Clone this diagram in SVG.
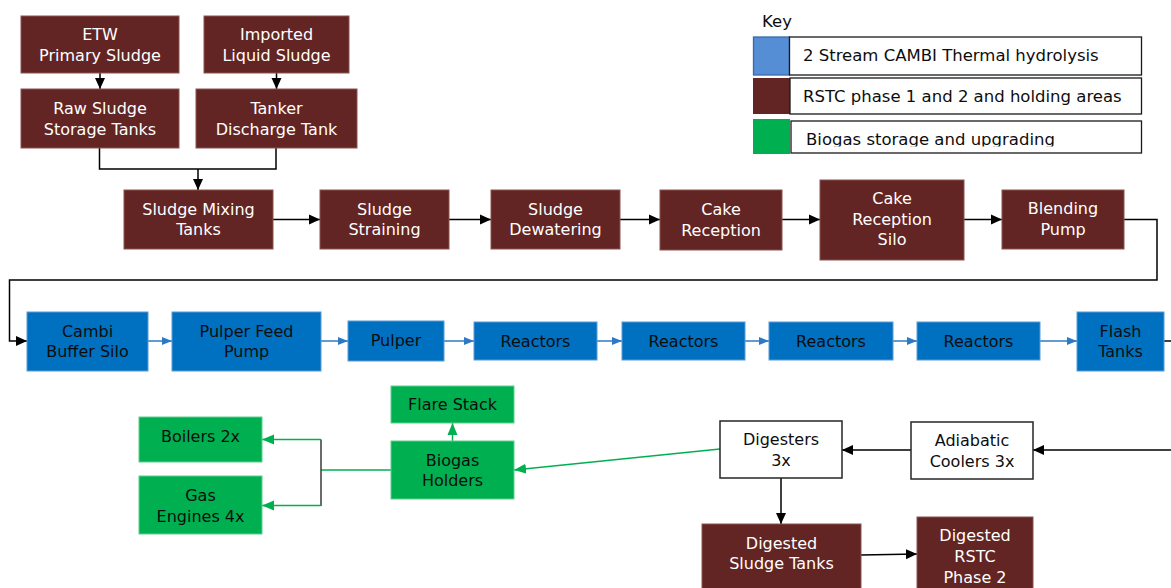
<svg xmlns="http://www.w3.org/2000/svg" width="1171" height="588" viewBox="0 0 1171 588">
  <style>
    text { font-family: "DejaVu Sans", Verdana, sans-serif; font-size: 16px; text-anchor: middle; }
    .red rect { fill: #632523; stroke: #8a5452; stroke-width: 1; }
    .red text { fill: #ffffff; }
    .blue rect { fill: #0070c0; stroke: #5a9bd5; stroke-width: 1; }
    .blue text { fill: #0d0d0d; }
    .green rect { fill: #00b050; stroke: #5fd08d; stroke-width: 1; }
    .green text { fill: #0d0d0d; }
    .white rect { fill: #ffffff; stroke: #262626; stroke-width: 1.5; }
    .white text { fill: #0d0d0d; }
    .key rect.box { fill: #ffffff; stroke: #1a1a1a; stroke-width: 1.3; }
    .key text { fill: #0d0d0d; text-anchor: start; font-size: 16.5px; }
    .blk { fill: none; stroke: #000000; stroke-width: 1.5; }
    .blu { fill: none; stroke: #2e78c4; stroke-width: 1.5; }
    .grn { fill: none; stroke: #00b050; stroke-width: 1.5; }
  </style>
  <defs>
    <marker id="ah-black" markerUnits="userSpaceOnUse" markerWidth="11" markerHeight="11" refX="11" refY="5.5" orient="auto">
      <path d="M0,0.5 L11,5.5 L0,10.5 z" fill="#000000"/>
    </marker>
    <marker id="ah-blue" markerUnits="userSpaceOnUse" markerWidth="10" markerHeight="10" refX="10" refY="5" orient="auto">
      <path d="M0,1 L10,5 L0,9 z" fill="#2e78c4"/>
    </marker>
    <marker id="ah-green" markerUnits="userSpaceOnUse" markerWidth="12" markerHeight="12" refX="12" refY="6" orient="auto">
      <path d="M0,1 L12,6 L0,11 z" fill="#00b050"/>
    </marker>
    <clipPath id="clip-key3">
      <rect x="790" y="120" width="352" height="26.5"/>
    </clipPath>
  </defs>

  <!-- legend -->
  <g id="key" class="key">
    <text x="762" y="27">Key</text>
    <rect x="753.5" y="37" width="36" height="38" fill="#558ed5" stroke="#3a6aa6" stroke-width="1.3"/>
    <rect class="box" x="789.5" y="37" width="352" height="38"/>
    <text x="803" y="61">2 Stream CAMBI Thermal hydrolysis</text>
    <rect x="753" y="78" width="37" height="36" fill="#632523"/>
    <rect class="box" x="790" y="78" width="351.5" height="36"/>
    <text x="803" y="102">RSTC phase 1 and 2 and holding areas</text>
    <rect x="753" y="119" width="37" height="35" fill="#00b050"/>
    <rect class="box" x="791" y="121" width="350.5" height="32"/>
    <text x="806" y="145" clip-path="url(#clip-key3)">Biogas storage and upgrading</text>
  </g>

  <!-- connectors -->
  <g id="connectors">
    <path class="blk" d="M100,73 V89" marker-end="url(#ah-black)"/>
    <path class="blk" d="M276.5,73 V89" marker-end="url(#ah-black)"/>
    <path class="blk" d="M99.5,148 V169 H276 V148"/>
    <path class="blk" d="M198,169 V190" marker-end="url(#ah-black)"/>
    <path class="blk" d="M273,219.5 H320" marker-end="url(#ah-black)"/>
    <path class="blk" d="M449,219.5 H491" marker-end="url(#ah-black)"/>
    <path class="blk" d="M620,219.5 H660" marker-end="url(#ah-black)"/>
    <path class="blk" d="M782,219.5 H820" marker-end="url(#ah-black)"/>
    <path class="blk" d="M964,219.5 H1002" marker-end="url(#ah-black)"/>
    <path class="blk" d="M1124,219.5 H1157 V280 H9.5 V341 H27" marker-end="url(#ah-black)"/>
    <path class="blu" d="M148,341 H172" marker-end="url(#ah-blue)"/>
    <path class="blu" d="M321,341 H348" marker-end="url(#ah-blue)"/>
    <path class="blu" d="M444,341 H474" marker-end="url(#ah-blue)"/>
    <path class="blu" d="M597,341 H622" marker-end="url(#ah-blue)"/>
    <path class="blu" d="M745,341 H769" marker-end="url(#ah-blue)"/>
    <path class="blu" d="M893,341 H917" marker-end="url(#ah-blue)"/>
    <path class="blu" d="M1040,341 H1077" marker-end="url(#ah-blue)"/>
    <path class="blk" d="M1164,341 H1171"/>
    <path class="blk" d="M1171,450 H1033" marker-end="url(#ah-black)"/>
    <path class="blk" d="M911,450 H842" marker-end="url(#ah-black)"/>
    <path class="blk" d="M781,478 V524" marker-end="url(#ah-black)"/>
    <path class="blk" d="M861,555 L917,554" marker-end="url(#ah-black)"/>
    <path class="grn" d="M720,449 L514,470" marker-end="url(#ah-green)"/>
    <path class="grn" d="M452.5,441 V423" marker-end="url(#ah-green)"/>
    <path class="grn" d="M391,470 H321"/>
    <path d="M321,439.5 V506" fill="none" stroke="#3a3a3a" stroke-width="1.5"/>
    <path class="grn" d="M321,439.5 H262" marker-end="url(#ah-green)"/>
    <path class="grn" d="M321,505.5 H262" marker-end="url(#ah-green)"/>
  </g>

  <!-- sludge intake -->
  <g id="etw" class="red"><rect x="21" y="16" width="158" height="57"/><text x="100" y="40">ETW</text><text x="100" y="61">Primary Sludge</text></g>
  <g id="imported" class="red"><rect x="204" y="16" width="145" height="57"/><text x="276.5" y="40">Imported</text><text x="276.5" y="61">Liquid Sludge</text></g>
  <g id="raw-storage" class="red"><rect x="21" y="89" width="158" height="59"/><text x="100" y="114">Raw Sludge</text><text x="100" y="135">Storage Tanks</text></g>
  <g id="tanker" class="red"><rect x="196" y="89" width="161" height="59"/><text x="276.5" y="114">Tanker</text><text x="276.5" y="135">Discharge Tank</text></g>

  <!-- sludge preparation -->
  <g id="mixing" class="red"><rect x="124" y="190" width="149" height="59"/><text x="198.5" y="215">Sludge Mixing</text><text x="198.5" y="235">Tanks</text></g>
  <g id="straining" class="red"><rect x="320" y="190" width="129" height="59"/><text x="384.5" y="215">Sludge</text><text x="384.5" y="235">Straining</text></g>
  <g id="dewatering" class="red"><rect x="491" y="190" width="129" height="59"/><text x="555.5" y="215">Sludge</text><text x="555.5" y="235">Dewatering</text></g>
  <g id="cake-reception" class="red"><rect x="660" y="190" width="122" height="60"/><text x="721" y="215">Cake</text><text x="721" y="236">Reception</text></g>
  <g id="cake-silo" class="red"><rect x="820" y="180" width="144" height="80"/><text x="892" y="204">Cake</text><text x="892" y="225">Reception</text><text x="892" y="245">Silo</text></g>
  <g id="blending" class="red"><rect x="1002" y="190" width="122" height="59"/><text x="1063" y="214">Blending</text><text x="1063" y="235">Pump</text></g>

  <!-- thermal hydrolysis -->
  <g id="cambi-silo" class="blue"><rect x="27" y="312" width="121" height="59"/><text x="87.5" y="337">Cambi</text><text x="87.5" y="357">Buffer Silo</text></g>
  <g id="pulper-feed" class="blue"><rect x="172" y="312" width="149" height="59"/><text x="246.5" y="337">Pulper Feed</text><text x="246.5" y="357">Pump</text></g>
  <g id="pulper" class="blue"><rect x="348" y="321" width="96" height="40"/><text x="396" y="346">Pulper</text></g>
  <g id="reactors-1" class="blue"><rect x="474" y="322" width="123" height="38"/><text x="535.5" y="347">Reactors</text></g>
  <g id="reactors-2" class="blue"><rect x="622" y="322" width="123" height="38"/><text x="683.5" y="347">Reactors</text></g>
  <g id="reactors-3" class="blue"><rect x="769" y="322" width="124" height="38"/><text x="831" y="347">Reactors</text></g>
  <g id="reactors-4" class="blue"><rect x="917" y="322" width="123" height="38"/><text x="978.5" y="347">Reactors</text></g>
  <g id="flash" class="blue"><rect x="1077" y="312" width="87" height="59"/><text x="1120.5" y="337">Flash</text><text x="1120.5" y="357">Tanks</text></g>

  <!-- biogas -->
  <g id="flare" class="green"><rect x="391" y="386" width="123" height="37"/><text x="452.5" y="410">Flare Stack</text></g>
  <g id="biogas" class="green"><rect x="391" y="441" width="123" height="58"/><text x="452.5" y="466">Biogas</text><text x="452.5" y="486">Holders</text></g>
  <g id="boilers" class="green"><rect x="139" y="417" width="123" height="45"/><text x="200.5" y="442">Boilers 2x</text></g>
  <g id="engines" class="green"><rect x="139" y="476" width="123" height="58"/><text x="200.5" y="501">Gas</text><text x="200.5" y="522">Engines 4x</text></g>

  <!-- digestion -->
  <g id="digesters" class="white"><rect x="720" y="421" width="122" height="57"/><text x="781" y="445">Digesters</text><text x="781" y="466">3x</text></g>
  <g id="coolers" class="white"><rect x="911" y="422" width="122" height="57"/><text x="972" y="446">Adiabatic</text><text x="972" y="467">Coolers 3x</text></g>
  <g id="digested-tanks" class="red"><rect x="702" y="524" width="159" height="70"/><text x="781.5" y="549">Digested</text><text x="781.5" y="569">Sludge Tanks</text></g>
  <g id="digested-rstc" class="red"><rect x="917" y="517" width="116" height="75"/><text x="975" y="541">Digested</text><text x="975" y="562">RSTC</text><text x="975" y="583">Phase 2</text></g>
</svg>
